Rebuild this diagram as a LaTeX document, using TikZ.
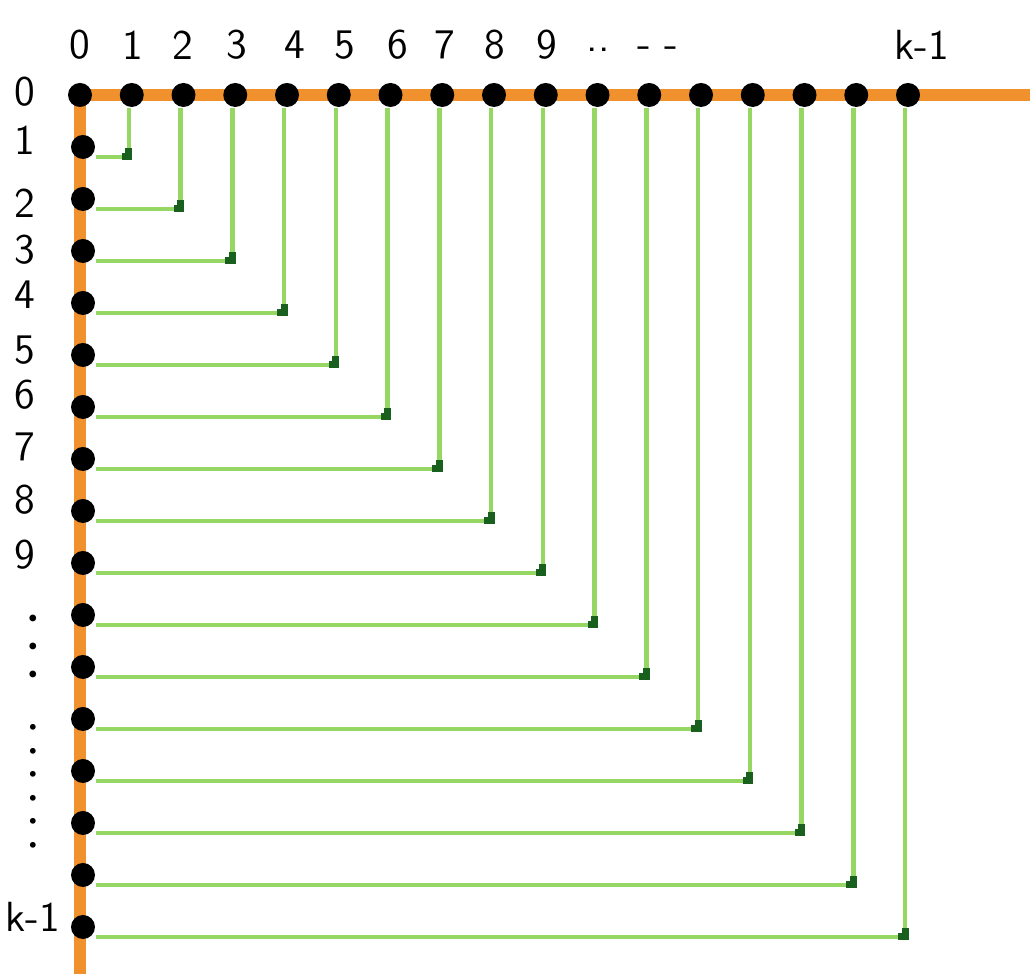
\documentclass[tikz,border=0pt]{standalone}
\usepackage{tikz}
\definecolor{axisorange}{RGB}{240,145,45}
\definecolor{pathgreen}{RGB}{150,215,100}
\definecolor{cornergreen}{RGB}{25,95,30}

\begin{document}
\begin{tikzpicture}[
  axis/.style={line width=0.12cm,axisorange},
  vertex/.style={circle,fill=black,inner sep=0pt,minimum size=0.24cm},
  route/.style={line width=0.045cm,pathgreen},
  kink/.style={line width=0.07cm,cornergreen},
  lbl/.style={font=\sffamily\large,inner sep=1pt},
  dotcol/.style={align=center,inner sep=0pt,anchor=north}]
 \useasboundingbox[fill=white] (0,0) rectangle (10.3,-9.74);
 % the two orange axes
 \coordinate (axl) at (0.74,-0.95);
 \coordinate (axr) at (10.3,-0.95);
 \coordinate (axt) at (0.80,-0.89);
 \coordinate (axb) at (0.80,-9.74);
 \draw[axis] (axl) -- (axr);
 \draw[axis] (axt) -- (axb);
 % dots along the top and down the left
 \foreach \j in {0,...,16}
  \node[vertex] (t\j) at ({0.80+0.5175*\j},-0.95) {};
 \foreach \i in {1,...,16}
  \node[vertex] (l\i) at (0.83,{-0.95-0.52*\i}) {};
 % green L-paths, column j to row j
 \foreach \j in {1,...,16} {
  \draw[route] ([xshift=-0.03cm]t\j.south) |- ([yshift=-0.10cm]l\j.east)
   coordinate[pos=0.5] (c\j);
  \draw[kink] ([yshift=0.09cm]c\j) -- (c\j) -- ([xshift=-0.07cm]c\j);
 }
 % labels on top
 \foreach \n/\x in {0/0.80,1/1.33,2/1.83,3/2.37,4/2.95,5/3.45,6/3.98,7/4.45,8/4.95,9/5.47}
  \node[lbl] (top\n) at (\x,-0.45) {\n};
 \node[lbl] (topa) at (5.98,-0.50) {..};
 \node[lbl] (topb) at (6.58,-0.52) {- -};
 \node[lbl] (topk) at (9.22,-0.45) {k-1};
 % labels on the left
 \foreach \n/\y in {0/-0.92,1/-1.40,2/-2.03,3/-2.50,4/-2.95,5/-3.50,6/-3.95,7/-4.47,8/-5.00,9/-5.55}
  \node[lbl] (side\n) at (0.25,\y) {\n};
 \node[dotcol,font={\fontsize{6.5}{8}\selectfont}] (gapa) at (0.33,-6.14)
  {\textbullet\\\textbullet\\\textbullet};
 \node[dotcol,font={\fontsize{5.5}{6.7}\selectfont}] (gapb) at (0.33,-7.24)
  {\textbullet\\\textbullet\\\textbullet\\\textbullet\\\textbullet\\\textbullet};
 \node[lbl] (sidek) at (0.33,-9.17) {k-1};
\end{tikzpicture}
\end{document}
